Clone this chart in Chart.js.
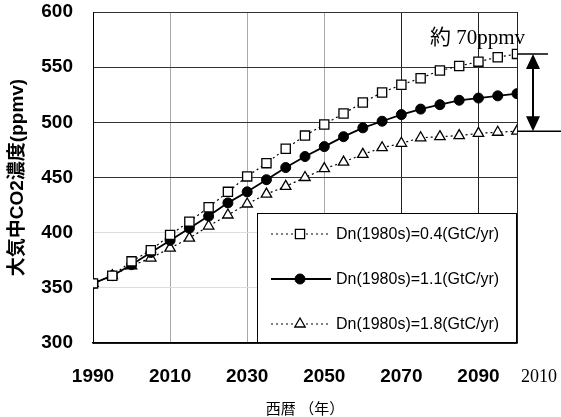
<!DOCTYPE html>
<html>
<head>
<meta charset="utf-8">
<script src="https://cdn.jsdelivr.net/npm/chart.js@4.4.1/dist/chart.umd.min.js"></script>
<style>
  html, body { margin: 0; padding: 0; background: #fff; }
</style>
</head>
<body>
<canvas id="grafico" width="561" height="417"></canvas>
<script>
// años cada 5 años, 1990-2100
const anios = [1990, 1995, 2000, 2005, 2010, 2015, 2020, 2025, 2030, 2035, 2040, 2045,
               2050, 2055, 2060, 2065, 2070, 2075, 2080, 2085, 2090, 2095, 2100];

// CO2 (ppmv) para cada valor de Dn(1980s)
const serie04 = [354, 361, 374, 384, 398, 410, 423, 437, 451, 463, 476, 488,
                 498, 508, 518, 527, 534, 540, 547, 551, 555, 559, 562];
const serie11 = [354, 361, 371, 382, 393, 404, 415, 427, 437, 448, 459, 469,
                 478, 487, 495, 501, 507, 512, 516, 520, 522, 524, 526];
const serie18 = [354, 361, 370, 377, 386, 395, 406, 416, 426, 435, 442, 450,
                 458, 464, 471, 477, 481, 486, 487, 488, 490, 491, 492];

const etiquetas = ['Dn(1980s)=0.4(GtC/yr)', 'Dn(1980s)=1.1(GtC/yr)', 'Dn(1980s)=1.8(GtC/yr)'];
const ticksX = [1990, 2010, 2030, 2050, 2070, 2090, 2100];
const etiquetaFinalX = '2010';
const textoDiferencia = '約 70ppmv';

const FUENTE = '"Liberation Sans", Arial, "Noto Sans CJK JP", sans-serif';

// leyenda dibujada dentro del área del gráfico (abajo a la derecha)
const leyendaInterna = {
  id: 'leyendaInterna',
  afterDatasetsDraw(chart) {
    const { ctx, chartArea } = chart;
    const izq = chartArea.right - 260;
    const arriba = chartArea.bottom - 130;
    ctx.save();
    ctx.fillStyle = '#fff';
    ctx.fillRect(izq, arriba, chartArea.right - izq, chartArea.bottom - arriba);
    ctx.strokeStyle = '#000';
    ctx.lineWidth = 1;
    ctx.strokeRect(izq + 0.5, arriba + 0.5, chartArea.right - izq - 1, chartArea.bottom - arriba - 1);

    chart.data.datasets.forEach((ds, i) => {
      const y = arriba + 21 + i * 45;
      ctx.strokeStyle = '#000';
      ctx.lineWidth = ds.borderWidth;
      ctx.setLineDash(ds.borderDash || []);
      ctx.beginPath();
      ctx.moveTo(izq + 14, y);
      ctx.lineTo(izq + 74, y);
      ctx.stroke();
      ctx.setLineDash([]);
      ctx.fillStyle = ds.pointBackgroundColor;
      ctx.strokeStyle = ds.pointBorderColor;
      ctx.lineWidth = ds.pointBorderWidth;
      Chart.helpers.drawPoint(ctx, {
        pointStyle: ds.pointStyle, radius: ds.pointRadius, rotation: 0, borderWidth: ds.pointBorderWidth
      }, izq + 43, y);
      ctx.fillStyle = '#000';
      ctx.font = '16px ' + FUENTE;
      ctx.textAlign = 'left';
      ctx.textBaseline = 'middle';
      ctx.fillText(etiquetas[i], izq + 79, y + 1);
    });
    ctx.restore();
  }
};

// flecha de "約 70ppmv" y última etiqueta del eje x
const anotaciones = {
  id: 'anotaciones',
  afterDraw(chart) {
    const { ctx, chartArea } = chart;
    const ejeY = chart.scales.y;
    const yArriba = ejeY.getPixelForValue(serie04[serie04.length - 1]);
    const yAbajo = ejeY.getPixelForValue(serie18[serie18.length - 1]);
    const xr = chartArea.right;
    const xf = xr + 16;
    ctx.save();
    ctx.strokeStyle = '#000';
    ctx.fillStyle = '#000';
    ctx.lineWidth = 1.5;
    ctx.beginPath();
    ctx.moveTo(xr, yArriba); ctx.lineTo(xr + 31, yArriba);
    ctx.moveTo(xr, yAbajo); ctx.lineTo(xr + 44, yAbajo);
    ctx.stroke();
    ctx.lineWidth = 2;
    ctx.beginPath();
    ctx.moveTo(xf, yArriba + 12); ctx.lineTo(xf, yAbajo - 12);
    ctx.stroke();
    ctx.beginPath();
    ctx.moveTo(xf, yArriba); ctx.lineTo(xf - 7, yArriba + 15); ctx.lineTo(xf + 7, yArriba + 15);
    ctx.closePath(); ctx.fill();
    ctx.beginPath();
    ctx.moveTo(xf, yAbajo); ctx.lineTo(xf - 7, yAbajo - 15); ctx.lineTo(xf + 7, yAbajo - 15);
    ctx.closePath(); ctx.fill();

    ctx.font = '21px "Liberation Serif", "Noto Sans CJK JP", serif';
    ctx.textAlign = 'right';
    ctx.textBaseline = 'alphabetic';
    ctx.fillText(textoDiferencia, xr + 8, yArriba - 10);

    ctx.font = '18px "Liberation Serif", serif';
    ctx.textAlign = 'center';
    ctx.textBaseline = 'middle';
    ctx.fillText(etiquetaFinalX, xr + 22, chartArea.bottom + 34);
    ctx.restore();
  }
};

const puntos = (arr) => anios.map((a, i) => ({ x: a, y: arr[i] }));

new Chart(document.getElementById('grafico'), {
  type: 'line',
  data: {
    datasets: [
      {
        label: etiquetas[0], data: puntos(serie04),
        borderColor: '#000', borderWidth: 1.2, borderDash: [2, 3],
        pointStyle: 'rect', pointRadius: 6.5, pointBackgroundColor: '#fff',
        pointBorderColor: '#000', pointBorderWidth: 1.3
      },
      {
        label: etiquetas[1], data: puntos(serie11),
        borderColor: '#000', borderWidth: 1.8, borderDash: [],
        pointStyle: 'circle', pointRadius: 5, pointBackgroundColor: '#000',
        pointBorderColor: '#000', pointBorderWidth: 1
      },
      {
        label: etiquetas[2], data: puntos(serie18),
        borderColor: '#000', borderWidth: 1.2, borderDash: [2, 3],
        pointStyle: 'triangle', pointRadius: 6, pointBackgroundColor: '#fff',
        pointBorderColor: '#000', pointBorderWidth: 1.3
      }
    ]
  },
  options: {
    responsive: false,
    animation: false,
    layout: { padding: { left: 6, right: 44, top: 0, bottom: 0 } },
    scales: {
      x: {
        type: 'linear', min: 1990, max: 2100,
        afterBuildTicks: (eje) => { eje.ticks = ticksX.map(v => ({ value: v })); },
        afterFit: (eje) => { eje.height = 74; eje.paddingLeft = 0; eje.paddingRight = 0; },
        grid: {
          drawTicks: false,
          color: (c) => (c.tick && c.tick.value >= 2070) ? '#222' : '#aaa'
        },
        border: { color: '#000', width: 1.5 },
        ticks: {
          autoSkip: false, maxRotation: 0, padding: 22, color: '#000',
          font: { family: FUENTE, size: 19, weight: 'bold' },
          callback: (v) => v === 2100 ? '' : String(v)
        },
        title: {
          display: true, text: '西暦 （年）', color: '#000',
          font: { family: '"Noto Sans CJK JP", sans-serif', size: 15 },
          padding: { top: 14, bottom: 0 }
        }
      },
      y: {
        min: 300, max: 600,
        afterFit: (eje) => { eje.width = 87; eje.paddingTop = 12; eje.paddingBottom = 0; },
        grid: {
          drawTicks: false,
          color: (c) => {
            const v = c.tick && c.tick.value;
            if (v === 400 || v === 350) return '#ddd';
            return '#333';
          }
        },
        border: { color: '#000', width: 1 },
        ticks: {
          stepSize: 50, padding: 20, color: '#000',
          font: { family: FUENTE, size: 19, weight: 'bold' }
        },
        title: {
          display: true, text: '大気中CO2濃度(ppmv)', color: '#000',
          font: { family: FUENTE, size: 19, weight: 'bold' },
          padding: { top: 0, bottom: 10 }
        }
      }
    },
    plugins: {
      legend: { display: false },
      tooltip: { enabled: false }
    }
  },
  plugins: [leyendaInterna, anotaciones]
});
</script>
</body>
</html>
